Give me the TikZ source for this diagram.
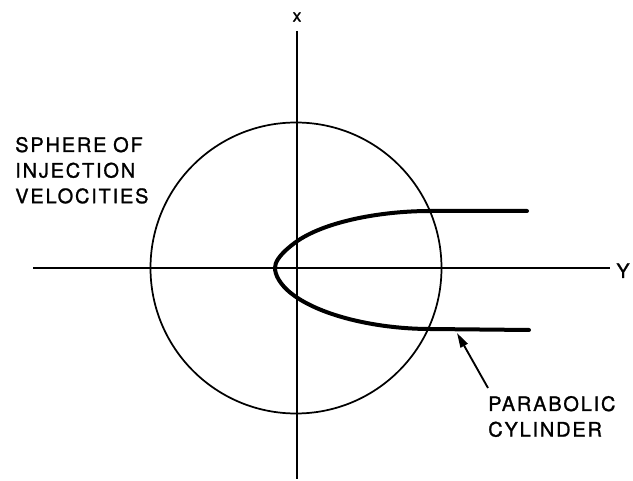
\documentclass[tikz,border=0pt]{standalone}
\usepackage{fontspec}
\setmainfont{TeX Gyre Heros}[LetterSpace=9,FakeBold=1.2]
\usetikzlibrary{arrows.meta}
\begin{document}
\begin{tikzpicture}[x=0.75pt,y=-0.75pt,
  axis/.style={line width=1.2pt},
  sphere/.style={line width=1.3pt},
  cyl/.style={line width=3pt, line cap=round, line join=round},
  lbl/.style={inner sep=0pt, font=\fontsize{15}{19.2}\selectfont, align=left, text width=4cm, anchor=base west},
  pointer/.style={line width=1.4pt, -{Triangle[length=11pt,width=6pt]}}]
\useasboundingbox (0,0) rectangle (633,481);
% axes
\coordinate (xt) at (297,31);
\coordinate (xb) at (297,479);
\coordinate (yl) at (33,268);
\coordinate (yr) at (610,268);
\draw[axis] (xt) -- (xb);
\draw[axis] (yl) -- (yr);
\node[inner sep=0pt, font=\fontsize{13}{15}\selectfont] (xlab) at (297,17) {x};
\node[inner sep=0pt, anchor=base, font=\fontsize{15}{18}\selectfont] (ylab) at (623,278) {Y};
% sphere
\coordinate (c) at (296,268);
\draw[sphere] (c) circle[radius=145.5];
% parabolic cylinder
\coordinate (pu) at (527,211);
\coordinate (pl) at (529,330);
\draw[cyl] (pu) -- (430,211) .. controls (380,211) and (320,222) .. (292,245)
  .. controls (278,256) and (275,263) .. (275,268)
  .. controls (275,274) and (279,284) .. (292,294)
  .. controls (322,317) and (380,329) .. (430,329) -- (pl);
% labels
\node[lbl] (sph) at (15,152) {SPHERE OF\\INJECTION\\VELOCITIES};
\node[lbl] (pc) at (488,411) {PARABOLIC\\CYLINDER};
\coordinate (arrstart) at (488,388);
\coordinate (arrend) at (457,333);
\draw[pointer] (arrstart) -- (arrend);
\end{tikzpicture}
\end{document}
